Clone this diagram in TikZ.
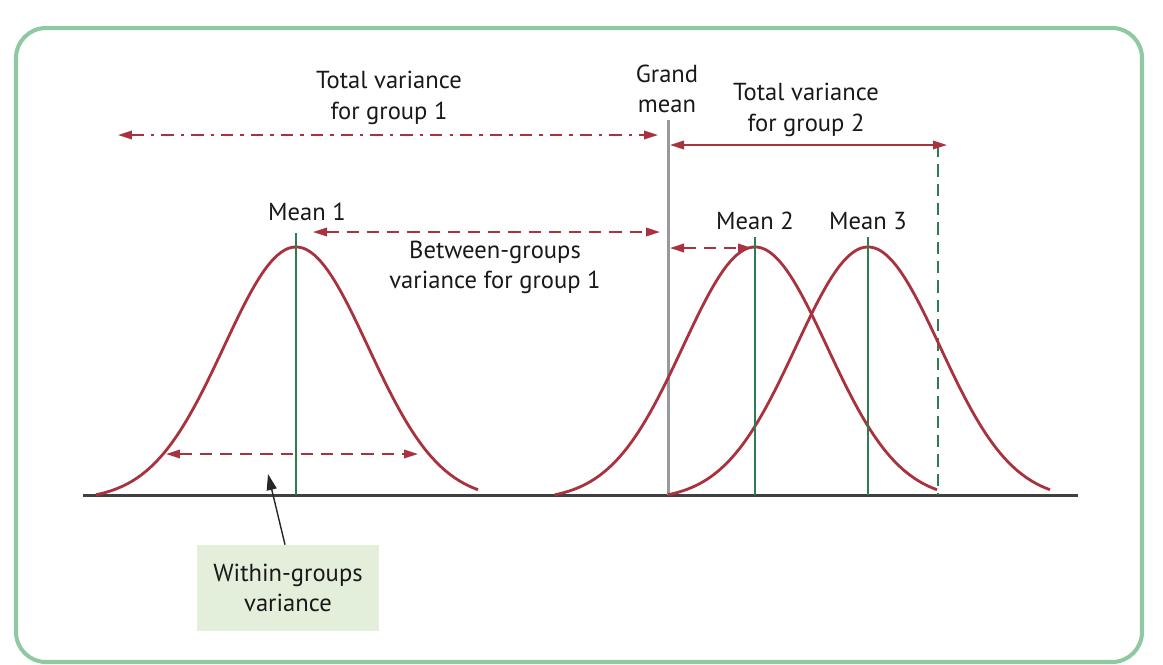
\documentclass[tikz,border=0pt]{standalone}
\usepackage{fontspec}
\setmainfont{PT Sans}
\usetikzlibrary{arrows.meta}
\definecolor{bellred}{HTML}{A8323E}
\definecolor{meangreen}{HTML}{2F7D4F}
\definecolor{framegreen}{HTML}{8FC9A2}
\definecolor{boxgreen}{HTML}{E3EEDB}

\begin{document}
\begin{tikzpicture}[x=0.02cm, y=-0.02cm,
  bell/.style={bellred, line width=1.6pt, domain=-200:182, samples=90, smooth},
  meanline/.style={meangreen, line width=1.1pt},
  vararrow/.style={bellred, line width=1.1pt, {Triangle[length=2.8mm,width=1.7mm]}-{Triangle[length=2.8mm,width=1.7mm]}},
  lbl/.style={font={\fontsize{14}{17.2}\selectfont}, align=center, text=black!90, inner sep=0pt}
]
\useasboundingbox (0,0) rectangle (1163,664);
\draw[framegreen, line width=2.3pt, rounded corners=0.6cm] (16,28) rectangle (1142,662);
\draw[black!75, line width=1.7pt] (83,495) -- (1078,495);
\draw[black!40, line width=1.7pt] (668,120) coordinate (gtop) -- (668,495) coordinate (gbot);
\draw[meangreen, line width=1pt, dash pattern=on 7pt off 4pt] (938,145) coordinate (rtop) -- (938,495) coordinate (rbot);
\draw[bell] plot ({296+\x}, {495-248*max(0,(exp(-0.5*(\x/72)*(\x/72))-0.02)/0.98)});
\draw[bell] plot ({755+\x}, {495-248*max(0,(exp(-0.5*(\x/72)*(\x/72))-0.02)/0.98)});
\draw[bell] plot ({868+\x}, {495-248*max(0,(exp(-0.5*(\x/72)*(\x/72))-0.02)/0.98)});
\draw[meanline] (296,233) coordinate (m1top) -- (296,495) coordinate (m1bot);
\draw[meanline] (755,237) coordinate (m2top) -- (755,495) coordinate (m2bot);
\draw[meanline] (868,237) coordinate (m3top) -- (868,495) coordinate (m3bot);
\coordinate (t1a) at (118,135);
\coordinate (t1b) at (658,135);
\coordinate (t2a) at (670,145);
\coordinate (t2b) at (947,145);
\coordinate (b1a) at (313,232);
\coordinate (b1b) at (660,232);
\coordinate (b2a) at (670,248);
\coordinate (b2b) at (752,248);
\coordinate (w1a) at (166,454);
\coordinate (w1b) at (418,454);
\coordinate (wtip) at (268,474);
\draw[vararrow, dash pattern=on 7pt off 4pt on 2pt off 4pt] (t1a) -- (t1b);
\draw[vararrow] (t2a) -- (t2b);
\draw[vararrow, dash pattern=on 7pt off 4.5pt] (b1a) -- (b1b);
\draw[vararrow, dash pattern=on 7pt off 4.5pt] (b2a) -- (b2b);
\draw[vararrow, dash pattern=on 7pt off 4.5pt] (w1a) -- (w1b);
\node[lbl] (tv1) at (389,98) {Total variance\\for group 1};
\node[lbl] (gm) at (667,89) {Grand\\mean};
\node[lbl] (tv2) at (806,110) {Total variance\\for group 2};
\node[lbl] (mean1) at (307,212) {Mean 1};
\node[lbl] (mean2) at (755,221) {Mean 2};
\node[lbl] (mean3) at (868,221) {Mean 3};
\node[lbl] (bg1) at (495,267) {Between-groups\\variance for group 1};
\node[lbl, fill=boxgreen, minimum width=3.64cm, minimum height=1.72cm] (wg) at (288,588) {Within-groups\\variance};
\draw[black!85, line width=0.8pt, -{Triangle[length=3.2mm,width=2mm]}] (wg.north) ++(-3,0) -- (wtip);
\end{tikzpicture}
\end{document}
